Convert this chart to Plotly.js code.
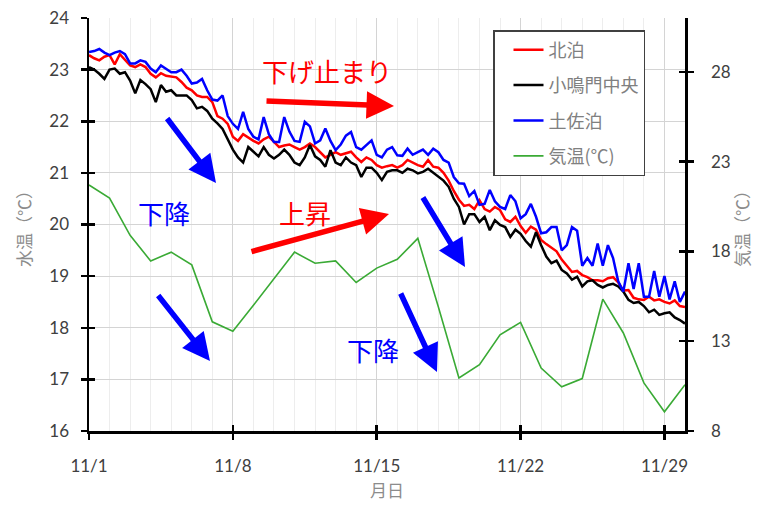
<!DOCTYPE html>
<html>
<head>
<meta charset="utf-8">
<script src="https://cdn.plot.ly/plotly-3.0.1.min.js"></script>
<style>html,body{margin:0;padding:0;background:#fff;}#chart{width:764px;height:508px;}</style>
</head>
<body>
<div id="chart"></div>
<script>
// ---- data ----
const seriesNames = ['北泊', '小鳴門中央', '土佐泊', '気温(℃)'];
const firstDay = '2020-11-01';
const hoursOfDay = [0, 6, 12, 18];      // water temperature sampled every 6 h
const lastStamp = '2020-11-30 00:00';

// 北泊 (water, 4 readings per day from 11/1 to 11/29, then 11/30 0:00)
const kitadomari = [
  23.28, 23.22, 23.18, 23.25,
  23.28, 23.10, 23.30, 23.20,
  23.08, 23.05, 23.10, 23.05,
  22.92, 22.85, 22.93, 22.88,
  22.87, 22.85, 22.76, 22.65,
  22.60, 22.50, 22.47, 22.47,
  22.37, 22.10, 22.05, 21.95,
  21.70, 21.62, 21.75, 21.68,
  21.62, 21.57, 21.65, 21.70,
  21.60, 21.50, 21.53, 21.55,
  21.50, 21.45, 21.50, 21.57,
  21.50, 21.40, 21.30, 21.35,
  21.40, 21.35, 21.38, 21.41,
  21.30, 21.21, 21.30, 21.25,
  21.15, 21.10, 21.13, 21.15,
  21.10, 21.15, 21.25, 21.20,
  21.15, 21.12, 21.25, 21.12,
  21.10, 21.00, 20.85, 20.65,
  20.48, 20.36, 20.38, 20.30,
  20.47, 20.30, 20.25, 20.34,
  20.28, 20.10, 20.05, 20.15,
  19.97, 19.84, 19.96, 19.90,
  19.70, 19.62, 19.55, 19.48,
  19.32, 19.20, 19.08, 19.10,
  19.02, 18.98, 18.92, 18.92,
  18.90, 18.96, 18.98, 18.88,
  18.72, 18.73, 18.58, 18.55,
  18.54, 18.60, 18.53, 18.55,
  18.50, 18.47, 18.53, 18.42,
  18.40
];

// 小鳴門中央
const konarutoChuo = [
  23.05, 23.00, 22.92, 22.82,
  23.00, 23.02, 22.92, 22.95,
  22.79, 22.54, 22.80, 22.72,
  22.62, 22.37, 22.70, 22.57,
  22.60, 22.50, 22.50, 22.50,
  22.41, 22.25, 22.28, 22.20,
  22.05, 21.96, 21.85, 21.65,
  21.45, 21.30, 21.20, 21.50,
  21.40, 21.32, 21.50, 21.35,
  21.28, 21.35, 21.45, 21.35,
  21.20, 21.15, 21.30, 21.54,
  21.32, 21.25, 21.12, 21.44,
  21.20, 21.15, 21.30, 21.20,
  21.15, 20.92, 21.10, 21.10,
  21.00, 20.86, 21.02, 21.05,
  21.05, 21.00, 21.08, 21.05,
  20.99, 21.02, 21.08, 21.00,
  20.92, 20.85, 20.73, 20.50,
  20.34, 20.00, 20.20, 20.20,
  20.05, 20.15, 19.89, 20.08,
  19.99, 19.95, 19.76, 19.90,
  19.82, 19.68, 19.57, 19.85,
  19.60, 19.38, 19.25, 19.30,
  19.12, 19.05, 18.93, 18.99,
  18.80, 18.90, 18.92, 18.83,
  18.78, 18.83, 18.85, 18.80,
  18.70, 18.54, 18.48, 18.50,
  18.42, 18.30, 18.35, 18.25,
  18.28, 18.30, 18.20, 18.15,
  18.08
];

// 土佐泊
const tosadomari = [
  23.34, 23.36, 23.40, 23.33,
  23.28, 23.33, 23.36, 23.30,
  23.12, 23.12, 23.18, 23.15,
  23.02, 22.95, 23.08, 23.02,
  22.95, 22.95, 23.00, 22.88,
  22.73, 22.75, 22.82, 22.60,
  22.42, 22.40, 22.50, 22.10,
  21.95, 21.85, 22.18, 21.85,
  21.70, 21.65, 22.08, 21.75,
  21.60, 21.60, 22.08, 21.80,
  21.62, 21.60, 21.99, 21.90,
  21.57, 21.63, 21.86, 21.62,
  21.44, 21.55, 21.72, 21.79,
  21.50, 21.45, 21.55, 21.63,
  21.35, 21.30, 21.45, 21.50,
  21.34, 21.33, 21.47, 21.35,
  21.40, 21.45, 21.35, 21.47,
  21.40, 21.25, 21.20, 20.92,
  20.80, 20.79, 20.55, 20.65,
  20.38, 20.40, 20.67, 20.45,
  20.34, 20.30, 20.57, 20.45,
  20.12, 20.20, 20.40, 20.15,
  19.83, 19.85, 19.95, 19.95,
  19.50, 19.60, 19.95, 19.88,
  19.20, 19.35, 19.20, 19.63,
  19.20, 19.60, 19.35, 18.90,
  18.70, 19.25, 18.75, 19.25,
  18.60, 18.60, 19.10, 18.60,
  19.00, 18.55, 18.90, 18.50,
  18.70
];

// 気温 (daily, 11/1 .. 11/30)
const airDates = [
  '2020-11-01','2020-11-02','2020-11-03','2020-11-04','2020-11-05','2020-11-06',
  '2020-11-07','2020-11-08','2020-11-09','2020-11-10','2020-11-11','2020-11-12',
  '2020-11-13','2020-11-14','2020-11-15','2020-11-16','2020-11-17','2020-11-18',
  '2020-11-19','2020-11-20','2020-11-21','2020-11-22','2020-11-23','2020-11-24',
  '2020-11-25','2020-11-26','2020-11-27','2020-11-28','2020-11-29','2020-11-30'
];
const airTemp = [
  21.70, 20.97, 18.90, 17.47, 17.96, 17.25,
  14.08, 13.55, 15.00, 16.46, 17.96, 17.34,
  17.47, 16.27, 17.07, 17.56, 18.73, 14.90,
  10.95, 11.69, 13.36, 14.05, 11.51, 10.46,
  10.92, 15.34, 13.46, 10.68, 9.07, 10.58
];

const xTickVals = ['2020-11-01', '2020-11-08', '2020-11-15', '2020-11-22', '2020-11-29'];
const xTickText = ['11/1', '11/8', '11/15', '11/22', '11/29'];

// ---- build time stamps for the water series ----
const waterTimes = [];
(function () {
  const base = new Date(firstDay + 'T00:00:00Z');
  const nDays = (kitadomari.length - 1) / hoursOfDay.length;
  for (let d = 0; d < nDays; d++) {
    for (const h of hoursOfDay) {
      const t = new Date(base.getTime() + d * 86400000 + h * 3600000);
      const iso = t.toISOString();
      waterTimes.push(iso.slice(0, 10) + ' ' + iso.slice(11, 16));
    }
  }
  waterTimes.push(lastStamp);
})();

const fontFam = "Lato, 'Noto Sans CJK JP', 'Noto Sans', sans-serif";
const cjkFam = "'Noto Sans CJK JP', 'Noto Sans', sans-serif";

const traces = [
  {x: waterTimes, y: kitadomari, name: seriesNames[0], type: 'scatter', mode: 'lines',
   line: {color: '#ff0000', width: 2.5}, legendgroup: 'a'},
  {x: waterTimes, y: konarutoChuo, name: seriesNames[1], type: 'scatter', mode: 'lines',
   line: {color: '#000000', width: 2.5}, legendgroup: 'b'},
  {x: waterTimes, y: tosadomari, name: seriesNames[2], type: 'scatter', mode: 'lines',
   line: {color: '#0000ff', width: 2.5}, legendgroup: 'c'},
  {x: airDates, y: airTemp, name: seriesNames[3], type: 'scatter', mode: 'lines',
   line: {color: '#3aaa35', width: 1.6}, yaxis: 'y2', legendgroup: 'd'},
  // helper (empty) traces so the inner-tick overlay axes are drawn
  {x: [], y: [], xaxis: 'x2', yaxis: 'y3', showlegend: false, hoverinfo: 'skip'},
  {x: [], y: [], xaxis: 'x2', yaxis: 'y4', showlegend: false, hoverinfo: 'skip'}
];

const W = 764, H = 508, L = 89, R = 79, T = 18, B = 77;
const pw = W - L - R, ph = H - T - B;
const px = v => (v - L) / pw;
const py = v => (H - B - v) / ph;

function arrow(hx, hy, tx, ty, color) {
  return {xref: 'paper', yref: 'paper', x: px(hx), y: py(hy), ax: tx - hx, ay: ty - hy,
          axref: 'pixel', ayref: 'pixel', text: '', showarrow: true,
          arrowhead: 2, arrowsize: 1, arrowwidth: 5.5, arrowcolor: color, standoff: 0};
}
function label(cx, cy, text, color) {
  return {xref: 'paper', yref: 'paper', x: px(cx), y: py(cy), xanchor: 'center', yanchor: 'middle',
          text: text, showarrow: false, font: {family: cjkFam, size: 26, color: color}};
}

const tickFont = {family: fontFam, size: 17, color: '#404040'};
const titleFont = {family: fontFam, size: 17, color: '#8c8c8c'};

const layout = {
  width: W, height: H,
  margin: {l: L, r: R, t: T, b: B},
  paper_bgcolor: '#ffffff', plot_bgcolor: '#ffffff',
  showlegend: true,
  xaxis: {
    type: 'date', range: ['2020-11-01', '2020-11-30'],
    tickvals: xTickVals, ticktext: xTickText,
    ticks: 'outside', ticklen: 6, tickwidth: 2.5, tickcolor: '#000',
    showline: true, linecolor: '#000', linewidth: 2.5,
    showgrid: true, gridcolor: '#d4d4d4', gridwidth: 1,
    minor: {dtick: 86400000, tick0: '2020-11-01', showgrid: true, gridcolor: '#ededed', gridwidth: 1, ticks: ''},
    zeroline: false, tickfont: tickFont, ticklabelstandoff: 12,
    title: {text: '月日', font: titleFont, standoff: 10}
  },
  xaxis2: {
    type: 'date', range: ['2020-11-01', '2020-11-30'], overlaying: 'x', anchor: 'y',
    tickvals: xTickVals, ticktext: xTickText, showticklabels: false,
    ticks: 'inside', ticklen: 6, tickwidth: 2.5, tickcolor: '#000',
    showline: false, showgrid: false, zeroline: false
  },
  yaxis: {
    range: [16, 24], dtick: 1, tick0: 16,
    ticks: 'outside', ticklen: 6, tickwidth: 2.5, tickcolor: '#000',
    showline: true, linecolor: '#000', linewidth: 2.5,
    showgrid: true, gridcolor: '#d4d4d4', gridwidth: 1,
    zeroline: false, tickfont: tickFont, ticklabelstandoff: 8,
    title: {text: '水温（℃）', font: titleFont, standoff: 14}
  },
  yaxis3: {
    range: [16, 24], dtick: 1, tick0: 16, overlaying: 'y', side: 'left', anchor: 'x2',
    ticks: 'inside', ticklen: 6, tickwidth: 2.5, tickcolor: '#000',
    showticklabels: false, showline: false, showgrid: false, zeroline: false
  },
  yaxis2: {
    range: [8, 31], dtick: 5, tick0: 8, overlaying: 'y', side: 'right',
    ticks: 'outside', ticklen: 6, tickwidth: 2.5, tickcolor: '#000',
    showline: true, linecolor: '#000', linewidth: 2.5,
    showgrid: false, zeroline: false, tickfont: tickFont, ticklabelstandoff: 14,
    title: {text: '気温（℃）', font: titleFont, standoff: 8}
  },
  yaxis4: {
    range: [8, 31], dtick: 5, tick0: 8, overlaying: 'y', side: 'right', anchor: 'x2',
    ticks: 'inside', ticklen: 6, tickwidth: 2.5, tickcolor: '#000',
    showticklabels: false, showline: false, showgrid: false, zeroline: false
  },
  legend: {
    x: px(493), y: py(30), xanchor: 'left', yanchor: 'top',
    bgcolor: '#ffffff', bordercolor: '#404040', borderwidth: 1.5,
    font: {family: cjkFam, size: 18, color: '#808080'},
    tracegroupgap: 9, indentation: 14, itemwidth: 30
  },
  annotations: [
    arrow(216, 183, 166, 117, '#0000ff'),
    arrow(394, 106, 265, 101, '#ff0000'),
    arrow(389, 214, 250, 252, '#ff0000'),
    arrow(210, 361, 157, 294, '#0000ff'),
    arrow(465, 267, 422, 196, '#0000ff'),
    arrow(437, 372, 400, 292, '#0000ff'),
    label(327, 70, '下げ止まり', '#ff0000'),
    label(305, 212, '上昇', '#ff0000'),
    label(164, 212, '下降', '#0000ff'),
    label(373, 349, '下降', '#0000ff')
  ]
};

Plotly.newPlot('chart', traces, layout, {displayModeBar: false, staticPlot: true});
</script>
</body>
</html>
